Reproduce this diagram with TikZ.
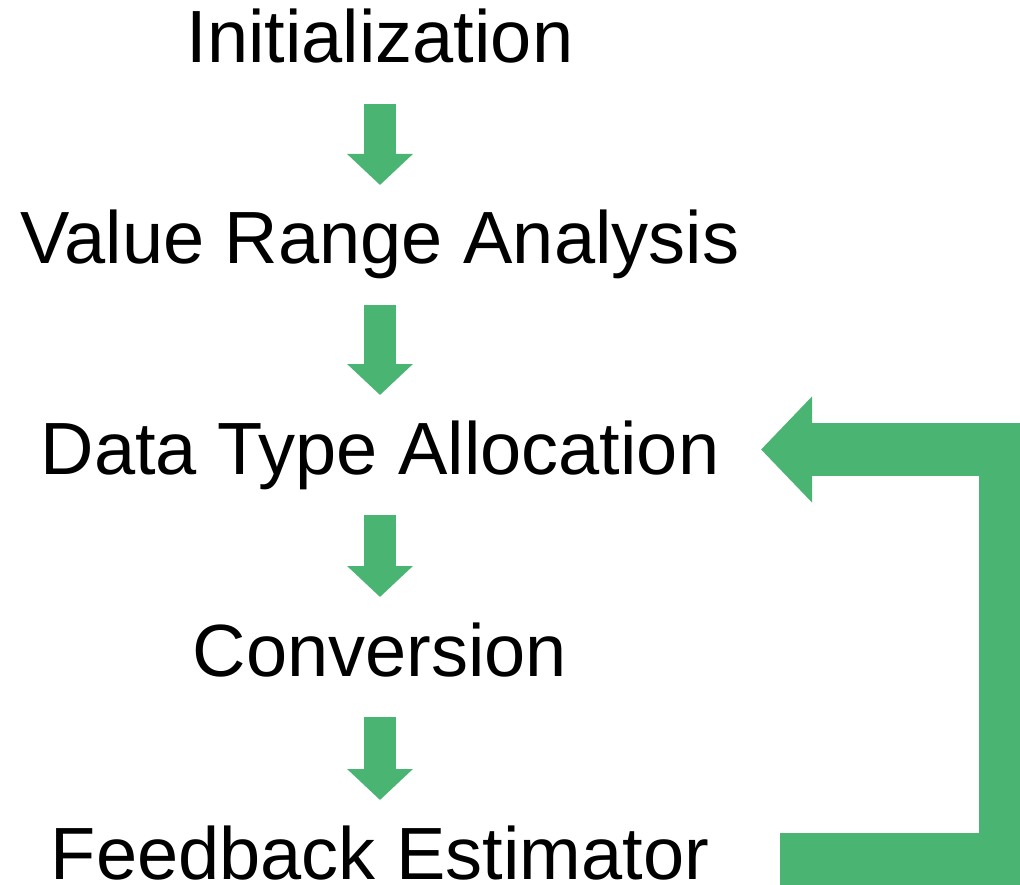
\documentclass[tikz,border=0pt]{standalone}
\usepackage{fontspec}
\setmainfont{Liberation Sans}
\usetikzlibrary{arrows.meta,calc}

\definecolor{flowgreen}{HTML}{4AB573}

\tikzset{
  stage/.style={inner sep=0pt, anchor=base, font=\fontsize{74}{74}\selectfont},
  flow/.style={draw=flowgreen, line width=32pt, shorten <=41pt, shorten >=79pt,
    -{Triangle[length=31pt,width=64pt]}},
  back/.style={draw=flowgreen, line width=53pt, line join=miter,
    -{Triangle[length=51pt,width=103pt]}}
}

\begin{document}
\begin{tikzpicture}[x=1pt, y=-1pt]
    \useasboundingbox (0,0) rectangle (1020,885);
    \clip (0,0) rectangle (1020,885);
    \node[stage] (init) at (380,63) {Initialization};
    \node[stage] (vra) at (380,264) {Value Range Analysis};
    \node[stage] (dta) at (380,474) {Data Type Allocation};
    \node[stage] (conv) at (380,676) {Conversion};
    \node[stage] (fe) at (380,879) {Feedback Estimator};
    \foreach \a/\b in {init/vra, vra/dta, dta/conv, conv/fe}
    \draw[flow] (\a.base) -- (\b.base);
    % Feedback loop
    \draw[back] ($(fe.base)+(400,-19.5)$) -- ++(225.5,0)
    |- ($(dta.base)+(381,-24.5)$);
\end{tikzpicture}
\end{document}
